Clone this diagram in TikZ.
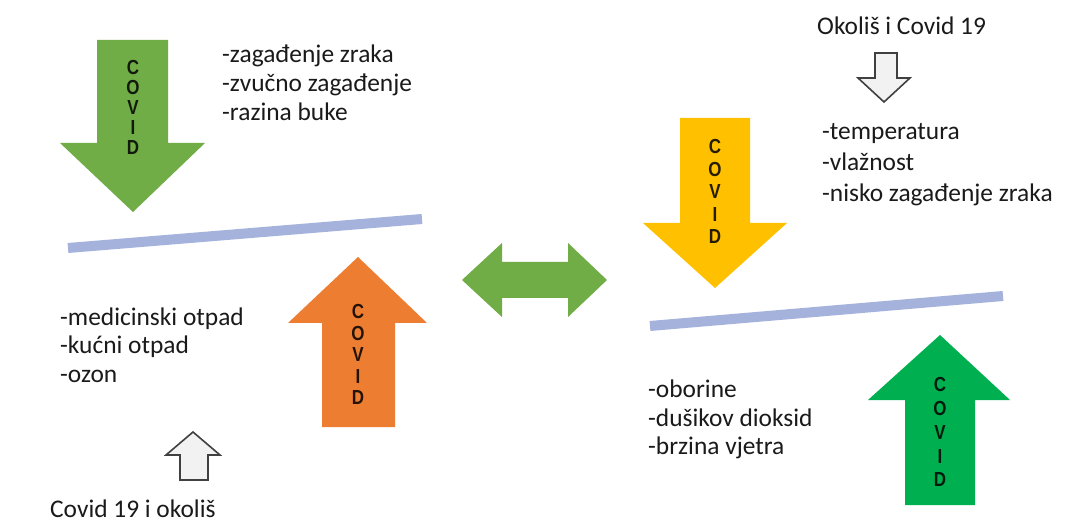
\documentclass[tikz,border=0pt]{standalone}
\usepackage{fontspec}
\setmainfont{Carlito}
\newfontfamily\covidfont{Liberation Sans Bold}
\definecolor{gA}{HTML}{70AD47}
\definecolor{gB}{HTML}{00B050}
\definecolor{orA}{HTML}{ED7D31}
\definecolor{yeA}{HTML}{FFC000}
\definecolor{lnA}{HTML}{A5B3DC}
\definecolor{txA}{HTML}{1A1A1A}
\tikzset{
  smallarrow/.style={fill=black!5, draw=black!75, line width=1.6bp, line join=miter},
  baseline line/.style={draw=lnA, line width=10bp},
  lbl/.style={anchor=base west, inner sep=0pt, text=txA, font=\fontsize{25.5}{30}\selectfont},
  letter/.style={inner sep=0pt, yscale=1.2, font=\covidfont\fontsize{17}{17}\selectfont},
}
\begin{document}
\begin{tikzpicture}[x=1bp,y=-1bp]
\useasboundingbox[fill=white] (0,0) rectangle (1067,522);
% balance lines
\draw[baseline line] (68,248) -- (422,219);
\draw[baseline line] (650,326) -- (1003,296);
% big arrows
\fill[gA] (97,40) -- (168,40) -- (168,143) -- (205,143) -- (133,212) -- (60,143) -- (97,143) -- cycle;
\fill[orA] (358,257) -- (427,323) -- (395,323) -- (395,427) -- (322,427) -- (322,323) -- (288,323) -- cycle;
\fill[yeA] (680,118) -- (750,118) -- (750,223) -- (787,223) -- (715,288) -- (643,223) -- (680,223) -- cycle;
\fill[gB] (940,335) -- (1010,400) -- (975,400) -- (975,505) -- (905,505) -- (905,400) -- (868,400) -- cycle;
\fill[gA] (462,280) -- (502,243) -- (502,262) -- (568,262) -- (568,243) -- (607,280) -- (568,317) -- (568,298) -- (502,298) -- (502,317) -- cycle;
% small outline arrows
\draw[smallarrow] (193,432) -- (220,455) -- (208,455) -- (208,480) -- (180,480) -- (180,455) -- (166,455) -- cycle;
\draw[smallarrow] (875,53) -- (897,53) -- (897,78) -- (910,78) -- (884,102) -- (858,78) -- (875,78) -- cycle;
% COVID letters
\foreach \l [count=\i from 0] in {C,O,V,I,D} {
  \node[letter, text=black!85!gA] (ga\i) at (133, 68+20*\i) {\l};
  \node[letter, text=black!85!orA] (or\i) at (358, 312+21.5*\i) {\l};
  \node[letter, text=black!85!yeA] (ye\i) at (715, 147+22.5*\i) {\l};
  \node[letter, text=black!85!gB] (gb\i) at (940, 385+23.75*\i) {\l};
}
% texts
\node[lbl] (t1) at (222,63) {-zagađenje zraka};
\node[lbl] (t2) at (222,92) {-zvučno zagađenje};
\node[lbl] (t3) at (222,121) {-razina buke};
\node[lbl] (r1) at (822,140) {-temperatura};
\node[lbl] (r2) at (822,171) {-vlažnost};
\node[lbl] (r3) at (822,202) {-nisko zagađenje zraka};
\node[lbl] (m1) at (60,326) {-medicinski otpad};
\node[lbl] (m2) at (60,354) {-kućni otpad};
\node[lbl] (m3) at (60,383) {-ozon};
\node[lbl] (b1) at (648,397) {-oborine};
\node[lbl] (b2) at (648,426) {-dušikov dioksid};
\node[lbl] (b3) at (648,454) {-brzina vjetra};
\node[lbl] (top) at (817,35) {Okoliš i Covid 19};
\node[lbl] (bot) at (50,517) {Covid 19 i okoliš};
\end{tikzpicture}
\end{document}
